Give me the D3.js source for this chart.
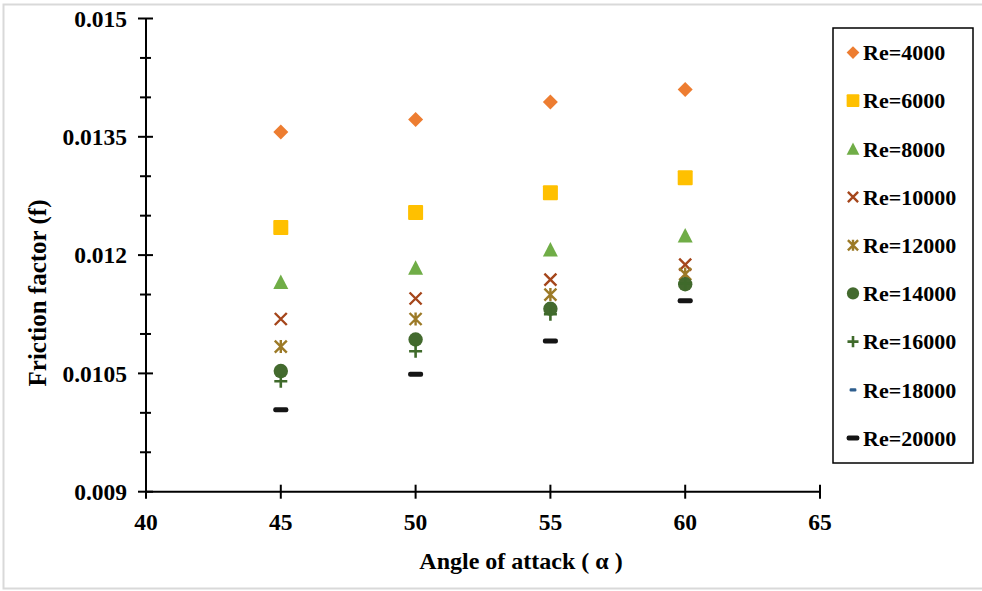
<!DOCTYPE html>
<html>
<head>
<meta charset="utf-8">
<script src="https://cdn.jsdelivr.net/npm/d3@7"></script>
<style>
  html, body { margin: 0; padding: 0; background: #fff; }
  svg { display: block; }
  text { font-family: "Liberation Serif", "Times New Roman", serif; font-weight: bold; fill: #000; }
</style>
</head>
<body>
<svg id="chart" width="982" height="591"></svg>
<script>
// Angle of attack (degrees)
const angles = [45, 50, 55, 60];

// Friction factor for each Reynolds number
const re4000  = [0.01356, 0.01372, 0.01394, 0.01410];
const re6000  = [0.01235, 0.01254, 0.01279, 0.01298];
const re8000  = [0.01166, 0.01184, 0.01207, 0.01225];
const re10000 = [0.01119, 0.01145, 0.01169, 0.01188];
const re12000 = [0.01084, 0.01119, 0.01150, 0.01176];
const re14000 = [0.01053, 0.01093, 0.01132, 0.01163];
const re16000 = [0.01040, 0.01078, 0.01125, 0.01164];
const re18000 = [0.01004, 0.01049, 0.01091, 0.01142];
const re20000 = [0.01004, 0.01049, 0.01091, 0.01142];

const seriesNames = ["Re=4000", "Re=6000", "Re=8000", "Re=10000", "Re=12000",
                     "Re=14000", "Re=16000", "Re=18000", "Re=20000"];
const seriesValues = [re4000, re6000, re8000, re10000, re12000, re14000, re16000, re18000, re20000];

const xTicks = [40, 45, 50, 55, 60, 65];
const yTicks = [0.009, 0.0105, 0.012, 0.0135, 0.015];
const yTickLabels = ["0.009", "0.0105", "0.012", "0.0135", "0.015"];
const yMinorTicks = [0.0095, 0.010, 0.011, 0.0115, 0.0125, 0.013, 0.014, 0.0145];

const svg = d3.select("#chart");

// outer chart border
svg.append("rect")
  .attr("x", 3.5).attr("y", 4.5).attr("width", 990).attr("height", 584)
  .attr("fill", "none").attr("stroke", "#d9d9d9").attr("stroke-width", 2);

const x = d3.scaleLinear().domain([40, 65]).range([146, 820]);
const y = d3.scaleLinear().domain([0.009, 0.015]).range([491.7, 18.5]);

// marker styles per series
const styles = [
  {shape: "diamond",  color: "#ED7D31"},
  {shape: "square",   color: "#FFC000"},
  {shape: "triangle", color: "#70AD47"},
  {shape: "x",        color: "#A5461B"},
  {shape: "star",     color: "#9C7A27"},
  {shape: "circle",   color: "#436A2E"},
  {shape: "plus",     color: "#3F6A2B"},
  {shape: "dashSm",   color: "#2E5E8E"},
  {shape: "dash",     color: "#151515"}
];

function drawMarker(g, shape, color, s) {
  // s: scale factor for marker size
  const p = d3.path();
  switch (shape) {
    case "diamond":
      p.moveTo(0, -7.5 * s); p.lineTo(7.5 * s, 0); p.lineTo(0, 7.5 * s); p.lineTo(-7.5 * s, 0); p.closePath();
      g.append("path").attr("d", p.toString()).attr("fill", color);
      break;
    case "square":
      g.append("rect").attr("x", -7.5 * s).attr("y", -7.5 * s)
        .attr("width", 15 * s).attr("height", 15 * s).attr("rx", 1).attr("fill", color);
      break;
    case "triangle":
      p.moveTo(0, -7.5 * s); p.lineTo(7.5 * s, 7 * s); p.lineTo(-7.5 * s, 7 * s); p.closePath();
      g.append("path").attr("d", p.toString()).attr("fill", color);
      break;
    case "x":
      p.moveTo(-6 * s, -6 * s); p.lineTo(6 * s, 6 * s);
      p.moveTo(6 * s, -6 * s); p.lineTo(-6 * s, 6 * s);
      g.append("path").attr("d", p.toString()).attr("stroke", color).attr("stroke-width", 2.4).attr("fill", "none");
      break;
    case "star":
      p.moveTo(-6 * s, -6 * s); p.lineTo(6 * s, 6 * s);
      p.moveTo(6 * s, -6 * s); p.lineTo(-6 * s, 6 * s);
      p.moveTo(0, -6.5 * s); p.lineTo(0, 6.5 * s);
      g.append("path").attr("d", p.toString()).attr("stroke", color).attr("stroke-width", 2.4).attr("fill", "none");
      break;
    case "circle":
      g.append("circle").attr("r", 7.2 * s).attr("fill", color);
      break;
    case "plus":
      p.moveTo(-6.5 * s, 0); p.lineTo(6.5 * s, 0);
      p.moveTo(0, -6.5 * s); p.lineTo(0, 6.5 * s);
      g.append("path").attr("d", p.toString()).attr("stroke", color).attr("stroke-width", 2.6).attr("fill", "none");
      break;
    case "dashSm":
      g.append("rect").attr("x", -4 * s).attr("y", -1.6).attr("width", 8 * s).attr("height", 3.2)
        .attr("rx", 1.2).attr("fill", color);
      break;
    case "dash":
      g.append("rect").attr("x", -7.5 * s).attr("y", -2.5).attr("width", 15 * s).attr("height", 5)
        .attr("rx", 2).attr("fill", color);
      break;
  }
}

// data markers
const plot = svg.append("g");
seriesValues.forEach((vals, i) => {
  const st = styles[i];
  const sg = plot.append("g");
  vals.forEach((v, j) => {
    const g = sg.append("g").attr("transform", `translate(${x(angles[j])},${y(v)})`);
    drawMarker(g, st.shape, st.color, 1);
  });
});

// y axis
const yAxis = svg.append("g");
yAxis.append("line").attr("x1", x(40)).attr("x2", x(40)).attr("y1", y(0.015)).attr("y2", y(0.009))
  .attr("stroke", "#000").attr("stroke-width", 2);
yAxis.selectAll("line.maj").data(yTicks).join("line")
  .attr("x1", x(40) - 8).attr("x2", x(40) + 7)
  .attr("y1", d => y(d)).attr("y2", d => y(d))
  .attr("stroke", "#000").attr("stroke-width", 2);
yAxis.selectAll("line.min").data(yMinorTicks).join("line")
  .attr("x1", x(40) - 6).attr("x2", x(40) + 5)
  .attr("y1", d => y(d)).attr("y2", d => y(d))
  .attr("stroke", "#000").attr("stroke-width", 2);
yAxis.selectAll("text").data(yTicks).join("text")
  .attr("x", 127).attr("y", d => y(d))
  .attr("dy", "0.35em").attr("text-anchor", "end")
  .attr("font-size", 23.5)
  .text((d, i) => yTickLabels[i]);

// x axis
const xAxis = svg.append("g");
xAxis.append("line").attr("x1", x(40)).attr("x2", x(65)).attr("y1", y(0.009)).attr("y2", y(0.009))
  .attr("stroke", "#000").attr("stroke-width", 2);
xAxis.selectAll("line.tk").data(xTicks).join("line")
  .attr("x1", d => x(d)).attr("x2", d => x(d))
  .attr("y1", y(0.009) - 7).attr("y2", y(0.009) + 7)
  .attr("stroke", "#000").attr("stroke-width", 2);
xAxis.selectAll("text").data(xTicks).join("text")
  .attr("x", d => x(d)).attr("y", 530)
  .attr("text-anchor", "middle")
  .attr("font-size", 23.5)
  .text(d => d);

// axis titles
svg.append("text")
  .attr("x", 521).attr("y", 569)
  .attr("text-anchor", "middle").attr("font-size", 24)
  .text("Angle of attack ( α )");
svg.append("text")
  .attr("transform", "translate(46,293) rotate(-90)")
  .attr("text-anchor", "middle").attr("font-size", 25)
  .text("Friction factor (f)");

// legend
const legend = svg.append("g");
legend.append("rect")
  .attr("x", 833).attr("y", 28).attr("width", 140).attr("height", 435)
  .attr("fill", "#fff").attr("stroke", "#000").attr("stroke-width", 1.5);
const legendY = d3.scalePoint().domain(seriesNames).range([52.5, 438]);
seriesNames.forEach((name, i) => {
  const g = legend.append("g").attr("transform", `translate(853,${legendY(name)})`);
  drawMarker(g, styles[i].shape, styles[i].color, 0.85);
  legend.append("text")
    .attr("x", 863).attr("y", legendY(name))
    .attr("dy", "0.35em")
    .attr("font-size", 22)
    .text(name);
});
</script>
</body>
</html>
